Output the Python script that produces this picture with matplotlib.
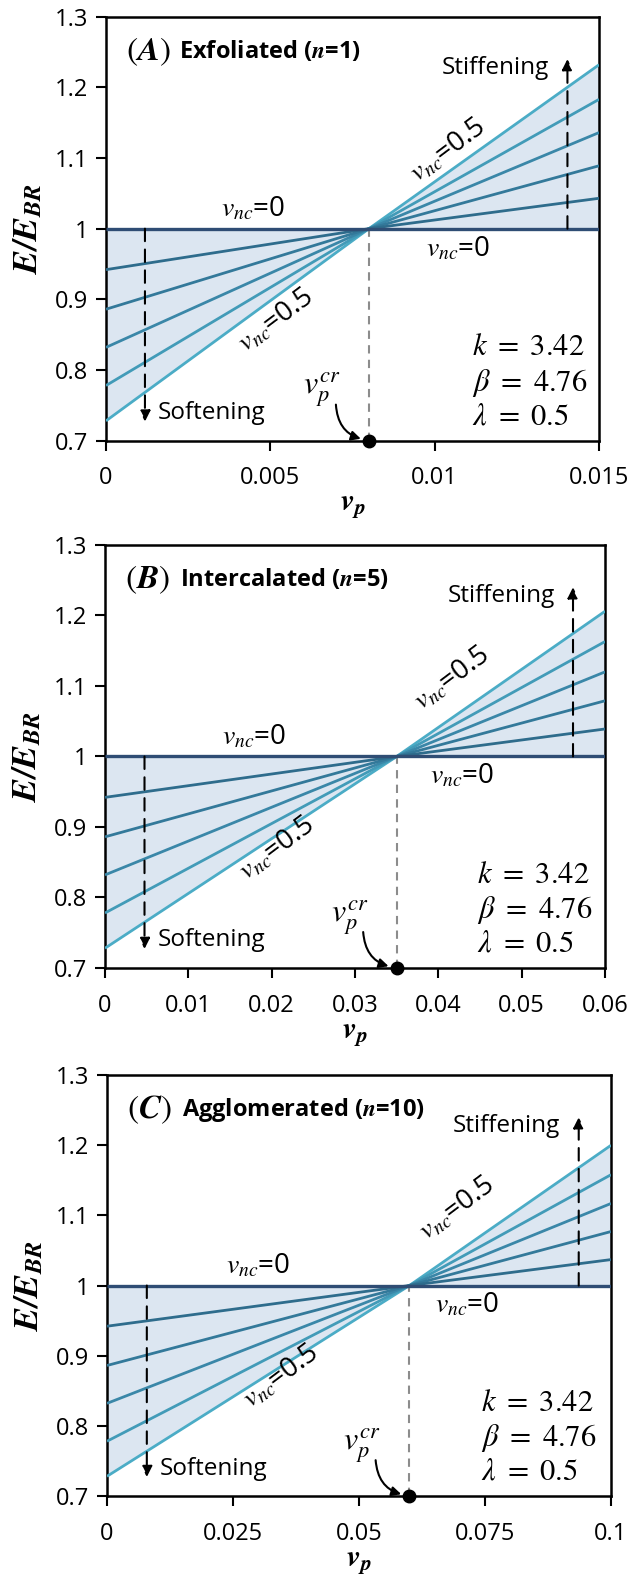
import matplotlib
matplotlib.use('Agg')
import matplotlib.pyplot as plt
import numpy as np

plt.rcParams['font.family'] = ['Open Sans', 'DejaVu Sans']
plt.rcParams['mathtext.fontset'] = 'stix'

# volume fraction of nanoclusters for each line
v_nc = [0, 0.1, 0.2, 0.3, 0.4, 0.5]

# panel A: exfoliated (n=1)
xmax_a = 0.015
vcr_a = 0.008
left_a = [1.0, 0.942, 0.886, 0.832, 0.778, 0.728]
right_a = [1.0, 1.043, 1.089, 1.136, 1.183, 1.232]
xticks_a = [0, 0.005, 0.01, 0.015]

# panel B: intercalated (n=5)
xmax_b = 0.06
vcr_b = 0.035
left_b = [1.0, 0.942, 0.886, 0.832, 0.778, 0.728]
right_b = [1.0, 1.039, 1.079, 1.120, 1.163, 1.206]
xticks_b = [0, 0.01, 0.02, 0.03, 0.04, 0.05, 0.06]

# panel C: agglomerated (n=10)
xmax_c = 0.1
vcr_c = 0.06
left_c = [1.0, 0.942, 0.886, 0.832, 0.778, 0.728]
right_c = [1.0, 1.037, 1.077, 1.117, 1.158, 1.200]
xticks_c = [0, 0.025, 0.05, 0.075, 0.1]

yticks = [0.7, 0.8, 0.9, 1, 1.1, 1.2, 1.3]

panels = [
    ('A', 'Exfoliated', '1', xmax_a, vcr_a, left_a, right_a, xticks_a),
    ('B', 'Intercalated', '5', xmax_b, vcr_b, left_b, right_b, xticks_b),
    ('C', 'Agglomerated', '10', xmax_c, vcr_c, left_c, right_c, xticks_c),
]

# axes rectangles (figure fraction)
rects = [
    [0.1688, 0.7204, 0.7850, 0.2690],
    [0.1672, 0.3858, 0.7962, 0.2684],
    [0.1704, 0.0508, 0.8025, 0.2670],
]

line_colors = ['#2F4D74', '#2E6C8C', '#33799A', '#3A87A8', '#429BB8', '#4BACC6']
fill_color = '#DCE6F1'

fig = plt.figure(figsize=(6.28, 15.76), dpi=100)

for (tag, name, n, xmax, vcr, left, right, xticks), rect in zip(panels, rects):
    ax = fig.add_axes(rect)
    xs = [0, vcr, xmax]
    lines = [[l, 1.0, r] for l, r in zip(left, right)]
    ax.fill_between(xs, lines[0], lines[-1], color=fill_color, lw=0, zorder=1)
    for i in range(len(v_nc) - 1, -1, -1):
        ax.plot(xs, lines[i], color=line_colors[i], lw=2.0 if i else 2.4,
                solid_capstyle='butt', zorder=3 if i else 4)

    ax.set_xlim(0, xmax)
    ax.set_ylim(0.7, 1.3)
    ax.set_xticks(xticks)
    ax.set_xticklabels(['%g' % t for t in xticks])
    ax.set_yticks(yticks)
    ax.set_yticklabels(['%g' % t for t in yticks])
    ax.tick_params(direction='out', length=7, width=1.5, labelsize=17,
                   colors='black')
    ax.tick_params(axis='x', pad=11.5)
    ax.tick_params(axis='y', pad=6)
    for s in ax.spines.values():
        s.set_linewidth(1.8)
        s.set_color('black')

    ax.set_xlabel(r'$\mathbfit{v_p}$', fontsize=22, labelpad=0)
    ax.set_ylabel(r'$\mathbfit{E/E_{BR}}$', fontsize=25, labelpad=7)

    # critical volume fraction marker
    xf = vcr / xmax
    ax.plot([vcr, vcr], [0.7, 1.0], ls=(0, (4, 3)), color='#8C8C8C', lw=1.5, zorder=2)
    ax.plot(vcr, 0.7, 'o', color='black', ms=9, clip_on=False, zorder=6)
    ax.text(xf - 0.095, 0.12, r'$v_p^{cr}$', transform=ax.transAxes,
            fontsize=23, ha='center', va='center')
    ax.annotate('', xy=(vcr, 0.7), xycoords='data',
                xytext=(xf - 0.067, 0.085), textcoords='axes fraction',
                arrowprops=dict(arrowstyle='-|>', color='black', lw=1.5,
                                connectionstyle='arc3,rad=0.4',
                                shrinkA=0, shrinkB=6, mutation_scale=14))

    # title
    ax.text(0.04, 0.918, r'$(\mathbfit{%s})$' % tag, transform=ax.transAxes,
            fontsize=24, ha='left', va='center')
    ax.text(0.149, 0.918, name + r' ($\mathbfit{n}$=' + n + ')',
            transform=ax.transAxes, fontsize=17, fontweight='bold',
            ha='left', va='center')

    # stiffening / softening arrows
    xs_up = 0.936 * xmax
    xs_dn = 0.079 * xmax
    ax.annotate('', xy=(xs_up, 1.24), xytext=(xs_up, 1.0),
                arrowprops=dict(arrowstyle='-|>', color='black', lw=1.5,
                                ls=(0, (6, 4)), mutation_scale=16, shrinkA=0, shrinkB=0),
                zorder=5)
    ax.annotate('', xy=(xs_dn, 0.727), xytext=(xs_dn, 1.0),
                arrowprops=dict(arrowstyle='-|>', color='black', lw=1.5,
                                ls=(0, (6, 4)), mutation_scale=16, shrinkA=0, shrinkB=0),
                zorder=5)
    ax.text(0.899, 0.88, 'Stiffening', transform=ax.transAxes, fontsize=17.5,
            ha='right', va='center')
    ax.text(0.105, 0.065, 'Softening', transform=ax.transAxes, fontsize=17.5,
            ha='left', va='center')

    # line labels
    ax.text(0.299, 0.545, r'$v_{nc}$=0', transform=ax.transAxes, fontsize=20,
            ha='center', va='center')
    ax.text(0.715, 0.452, r'$v_{nc}$=0', transform=ax.transAxes, fontsize=20,
            ha='center', va='center')
    ax.text(0.694, 0.683, r'$v_{nc}$=0.5', transform=ax.transAxes, fontsize=20,
            ha='center', va='center', rotation=37)
    ax.text(0.345, 0.283, r'$v_{nc}$=0.5', transform=ax.transAxes, fontsize=20,
            ha='center', va='center', rotation=37)

    # parameters
    ax.text(0.743, 0.22, r'$k\ =\ 3.42$', transform=ax.transAxes, fontsize=22,
            ha='left', va='center')
    ax.text(0.743, 0.137, r'$\beta\ =\ 4.76$', transform=ax.transAxes, fontsize=22,
            ha='left', va='center')
    ax.text(0.743, 0.057, r'$\lambda\ =\ 0.5$', transform=ax.transAxes, fontsize=22,
            ha='left', va='center')

fig.savefig('out.png', dpi=100)
